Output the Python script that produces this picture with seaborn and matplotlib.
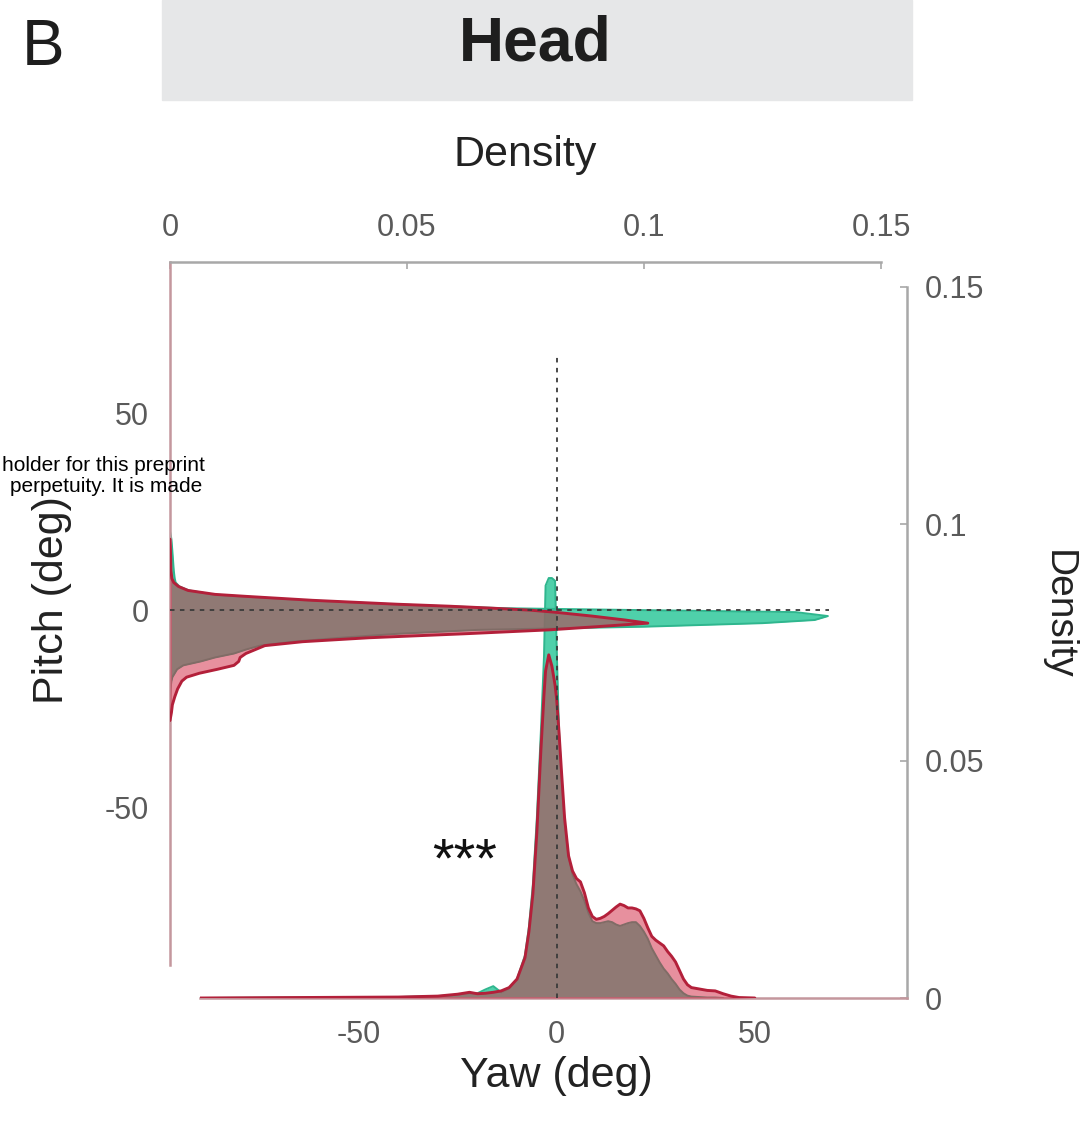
import numpy as np
import pandas as pd
import matplotlib
matplotlib.use("Agg")
import matplotlib.pyplot as plt
from matplotlib.patches import Rectangle
import seaborn as sns

# ---------------- data ----------------
yaw_deg = [-90, -40, -30, -25, -22, -20, -18, -16, -14, -12, -10, -8, -7, -6, -5, -4,
           -3.2, -2.8, -2.0, -1.2, -0.4, 0, 0.6, 1.2, 2, 3, 4, 5, 6, 7, 8, 9, 10, 11,
           12, 13, 14, 15, 16, 17, 18, 19, 20, 21, 22, 23, 24, 25, 26, 27, 28, 29, 30,
           31, 32, 33, 34, 36, 38, 40, 42, 44, 46, 50, 88.4]
yaw_density_teal = [0, 0.0002, 0.0004, 0.0007, 0.0010, 0.0010, 0.0018, 0.0025, 0.0012, 0.0020,
                    0.0040, 0.0090, 0.0150, 0.0240, 0.0380, 0.0560,
                    0.0720, 0.0870, 0.0886, 0.0886, 0.0880, 0.0740, 0.0560, 0.0470, 0.0370,
                    0.0300, 0.0260, 0.0240, 0.0225, 0.0205, 0.0180, 0.0162, 0.0158, 0.0158,
                    0.0160, 0.0162, 0.0160, 0.0155, 0.0152, 0.0155, 0.0158, 0.0160, 0.0160,
                    0.0152, 0.0140, 0.0125, 0.0105, 0.0090, 0.0075, 0.0062, 0.0052, 0.0040,
                    0.0030, 0.0018, 0.0010, 0.0005, 0.0003, 0.0002, 0.0001, 0.0001, 0, 0,
                    0, 0, 0]
yaw_density_red = [0, 0.0002, 0.0004, 0.0008, 0.0012, 0.0009, 0.0010, 0.0012, 0.0015, 0.0022,
                   0.0040, 0.0085, 0.0140, 0.0220, 0.0350, 0.0520,
                   0.0640, 0.0690, 0.0724, 0.0700, 0.0660, 0.0630, 0.0560, 0.0480, 0.0380,
                   0.0300, 0.0268, 0.0252, 0.0245, 0.0222, 0.0190, 0.0172, 0.0166, 0.0168,
                   0.0172, 0.0178, 0.0185, 0.0192, 0.0198, 0.0195, 0.0190, 0.0190, 0.0188,
                   0.0184, 0.0168, 0.0148, 0.0130, 0.0122, 0.0116, 0.0110, 0.0098, 0.0088,
                   0.0076, 0.0058, 0.0040, 0.0028, 0.0022, 0.0019, 0.0016, 0.0015, 0.0009,
                   0.0004, 0.0001, 0, 0]

pitch_deg = [-90, -28, -26, -24, -22, -20, -18, -17, -16, -15, -14, -13, -12, -11, -10, -9,
             -8, -7, -6, -5, -4.2, -3.3, -2.5, -1.5, -0.5, 0, 0.5, 1, 1.5, 2, 2.5, 3, 3.5,
             4, 5, 6, 7, 8, 10, 15, 18, 20, 88.3]
pitch_density_teal = [0, 0, 0, 0, 0, 0.0001, 0.0003, 0.0005, 0.0010, 0.0015, 0.0028, 0.0065,
                      0.0095, 0.0135, 0.0160, 0.0190, 0.0260, 0.0360, 0.0480, 0.0650, 0.1000,
                      0.1250, 0.1360, 0.1388, 0.1320, 0.1000, 0.0700, 0.0580, 0.0470, 0.0380,
                      0.0290, 0.0220, 0.0150, 0.0090, 0.0040, 0.0020, 0.0012, 0.0010, 0.0008,
                      0.0005, 0.0003, 0, 0]
pitch_density_red = [0, 0, 0.0003, 0.0005, 0.0010, 0.0016, 0.0025, 0.0035, 0.0062, 0.0100,
                     0.0135, 0.0145, 0.0148, 0.0160, 0.0180, 0.0200, 0.0280, 0.0420, 0.0620,
                     0.0800, 0.0900, 0.1008, 0.0960, 0.0890, 0.0810, 0.0760, 0.0680, 0.0590,
                     0.0480, 0.0390, 0.0300, 0.0230, 0.0160, 0.0095, 0.0038, 0.0018, 0.0008,
                     0.0004, 0.0002, 0.0001, 0, 0, 0]

density_ticks = [0, 0.05, 0.1, 0.15]
density_ticklabels = ["0", "0.05", "0.1", "0.15"]
angle_ticks = [-50, 0, 50]
angle_ticklabels = ["-50", "0", "50"]

# ---------------- style ----------------
sns.set_theme(style="white")
plt.rcParams["font.family"] = ["Liberation Sans", "DejaVu Sans"]

TEAL_FILL = "#30c89b"
TEAL_LINE = "#2fb68e"
RED_FILL = "#d1233f"
RED_LINE = "#b3203a"
AXIS_GRAY = "#a8a8a8"
AXIS_ROSE = "#c4979d"
TICK_TXT = "#5a5a5a"

W, H = 1086, 1135
fig = plt.figure(figsize=(W / 100, H / 100), dpi=100)


def rect(l, t, r, b):
    return [l / W, 1 - b / H, (r - l) / W, (b - t) / H]


def support(df, col):
    """rows inside the non-zero support of a curve (plus one zero row on each side)"""
    nz = df[col].to_numpy() > 0
    keep = nz.copy()
    keep[:-1] |= nz[1:]
    keep[1:] |= nz[:-1]
    return df[keep]


# title band
fig.patches.append(Rectangle((162 / W, 1 - 100 / H), (912 - 162) / W, 100 / H,
                             transform=fig.transFigure, color="#e6e7e8", zorder=0))
fig.text(535 / W, 1 - 44 / H, "Head", ha="center", va="center", fontsize=45,
         fontweight="bold", color="#1e1e1e")
fig.text(43 / W, 1 - 48 / H, "B", ha="center", va="center", fontsize=46, color="#1e1e1e")

ax_yaw = fig.add_axes(rect(200, 287, 907, 998))
ax_pitch = fig.add_axes(rect(170, 262, 881, 965))
for ax in (ax_yaw, ax_pitch):
    ax.patch.set_visible(False)

# ---------------- yaw marginal density ----------------
df_yaw = pd.DataFrame({"yaw": yaw_deg, "teal": yaw_density_teal, "red": yaw_density_red})
ax_yaw.fill_between(df_yaw["yaw"], df_yaw["teal"], color=TEAL_FILL, alpha=0.85, lw=0, zorder=1)
sns.lineplot(data=support(df_yaw, "teal"), x="yaw", y="teal", color=TEAL_LINE, lw=1.4,
             ax=ax_yaw, estimator=None, zorder=2)
ax_yaw.fill_between(df_yaw["yaw"], df_yaw["red"], color=RED_FILL, alpha=0.5, lw=0, zorder=3)
sns.lineplot(data=support(df_yaw, "red"), x="yaw", y="red", color=RED_LINE, lw=2.1,
             ax=ax_yaw, estimator=None, zorder=4)

ax_yaw.set_xlim(-90, 88.4)
ax_yaw.set_ylim(0, 0.15)
ax_yaw.set_xlabel("")
ax_yaw.set_ylabel("")
ax_yaw.spines["left"].set_visible(False)
ax_yaw.spines["top"].set_visible(False)
ax_yaw.spines["bottom"].set_color(AXIS_ROSE)
ax_yaw.spines["right"].set_color(AXIS_GRAY)
for s in ("bottom", "right"):
    ax_yaw.spines[s].set_linewidth(1.8)
ax_yaw.yaxis.tick_right()
ax_yaw.set_xticks(angle_ticks, angle_ticklabels)
ax_yaw.set_yticks(density_ticks, density_ticklabels)
ax_yaw.tick_params(axis="x", direction="out", length=5, width=1.2, color=AXIS_GRAY,
                   labelsize=22, labelcolor=TICK_TXT, pad=11)
ax_yaw.tick_params(axis="y", direction="in", length=5, width=1.2, color=AXIS_GRAY,
                   labelsize=22, labelcolor=TICK_TXT, pad=13, left=False, right=True)

# ---------------- pitch marginal density ----------------
df_pitch = pd.DataFrame({"pitch": pitch_deg, "teal": pitch_density_teal,
                         "red": pitch_density_red})
ax_pitch.fill_betweenx(df_pitch["pitch"], 0, df_pitch["teal"], color=TEAL_FILL, alpha=0.85,
                       lw=0, zorder=1)
sns.lineplot(data=support(df_pitch, "teal"), x="teal", y="pitch", orient="y", color=TEAL_LINE,
             lw=1.4, ax=ax_pitch, estimator=None, zorder=2)
ax_pitch.fill_betweenx(df_pitch["pitch"], 0, df_pitch["red"], color=RED_FILL, alpha=0.5,
                       lw=0, zorder=3)
sns.lineplot(data=support(df_pitch, "red"), x="red", y="pitch", orient="y", color=RED_LINE,
             lw=2.1, ax=ax_pitch, estimator=None, zorder=4)

ax_pitch.set_xlim(0, 0.15)
ax_pitch.set_ylim(-90, 88.3)
ax_pitch.set_xlabel("")
ax_pitch.set_ylabel("")
ax_pitch.spines["right"].set_visible(False)
ax_pitch.spines["bottom"].set_visible(False)
ax_pitch.spines["top"].set_color(AXIS_GRAY)
ax_pitch.spines["left"].set_color(AXIS_ROSE)
for s in ("top", "left"):
    ax_pitch.spines[s].set_linewidth(1.8)
ax_pitch.xaxis.tick_top()
ax_pitch.set_xticks(density_ticks, density_ticklabels)
ax_pitch.set_yticks(angle_ticks, angle_ticklabels)
ax_pitch.tick_params(axis="x", direction="in", length=5, width=1.2, color=AXIS_GRAY,
                     labelsize=22, labelcolor=TICK_TXT, pad=14, top=True, bottom=False)
ax_pitch.tick_params(axis="y", direction="out", length=5, width=1.2, color=AXIS_GRAY,
                     labelsize=22, labelcolor=TICK_TXT, pad=10)

# dashed zero lines (drawn on top of both panels)
dash = dict(color="#3a3a3a", lw=1.3, ls=(0, (2.5, 3)), zorder=10)
ax_pitch.plot([0, 0.139], [0, 0], **dash)
ax_pitch.plot([0, 0], [0, 0.1357], transform=ax_yaw.transData, clip_on=False, **dash)

# ---------------- texts ----------------
fig.text(525 / W, 1 - 155 / H, "Density", ha="center", va="center", fontsize=31,
         color="#222222")
fig.text(556 / W, 1 - 1076 / H, "Yaw (deg)", ha="center", va="center", fontsize=31,
         color="#222222")
fig.text(52 / W, 1 - 600 / H, "Pitch (deg)", ha="center", va="center", fontsize=31,
         rotation=90, color="#222222")
fig.text(1058 / W, 1 - 615 / H, "Density", ha="center", va="center", fontsize=28,
         rotation=-90, color="#222222")
fig.text(465 / W, 1 - 862 / H, "***", ha="center", va="center", fontsize=40, color="#111111")
fig.text(2 / W, 1 - 466 / H, "holder for this preprint", ha="left", va="center",
         fontsize=15, color="black", zorder=20)
fig.text(202 / W, 1 - 486 / H, "perpetuity. It is made", ha="right", va="center",
         fontsize=15, color="black", zorder=20)

fig.savefig("out.png", dpi=100)
